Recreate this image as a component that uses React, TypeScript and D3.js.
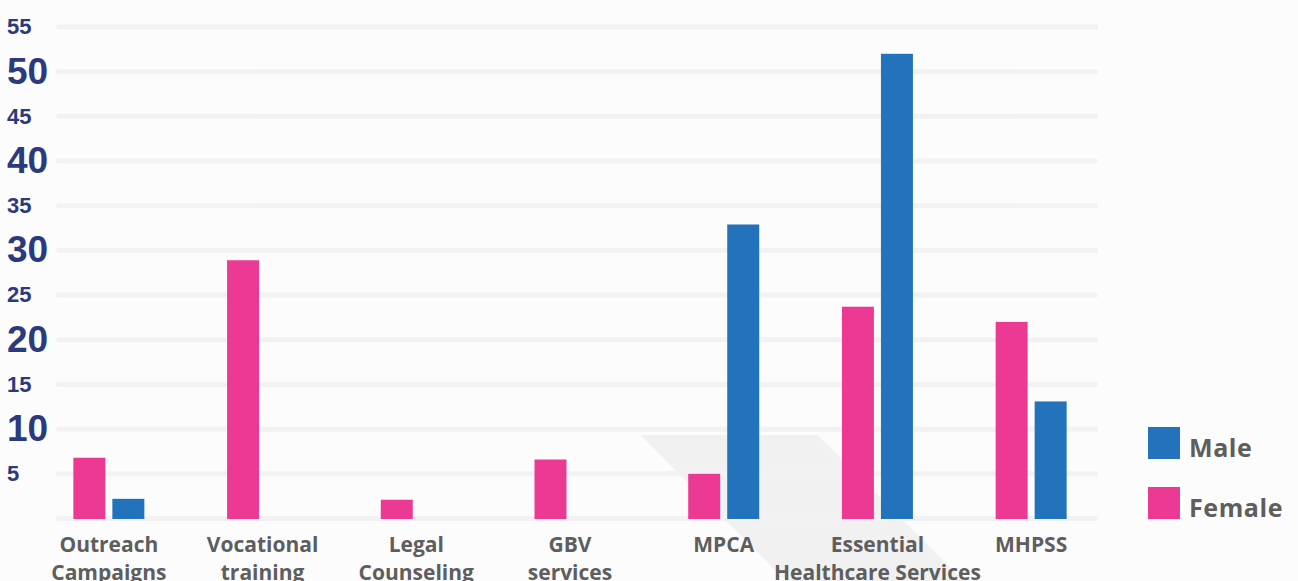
import React, { useRef, useEffect } from 'react';
import { select, scaleLinear, scalePoint, scaleBand, range } from 'd3';

const categories = [
  ['Outreach', 'Campaigns'],
  ['Vocational', 'training'],
  ['Legal', 'Counseling'],
  ['GBV', 'services'],
  ['MPCA'],
  ['Essential', 'Healthcare Services'],
  ['MHPSS'],
];
const female = [6.8, 28.9, 2.1, 6.6, 5, 23.7, 22];
const male = [2.2, 0, 0, 0, 32.9, 52, 13.1];
const series = ['Female', 'Male'];
const yTicks = range(5, 60, 5);

const W = 1298;
const H = 581;
const PINK = '#ec3994';
const BLUE = '#2273bb';
const GREY_TXT = '#5e5e5e';
const NAVY = '#2a3a7d';

/**
 * grouped bar chart
 */
export default function App() {
  const svgRef = useRef(null);

  useEffect(() => {
    const svg = select(svgRef.current);
    svg.selectAll('*').remove();

    const y = scaleLinear().domain([0, 55]).range([518.5, 27]);
    const x = scalePoint()
      .domain(categories.map((c, i) => String(i)))
      .range([32, 1108])
      .padding(0.5);
    const x1 = scaleBand().domain(series).range([-35.5, 35.5]).paddingInner(0.18);

    svg.append('rect').attr('width', W).attr('height', H).attr('fill', '#fcfcfd');

    // decorative shape behind the labels
    svg
      .append('polygon')
      .attr('points', '640,435 818,435 978,595 800,595')
      .attr('fill', '#f1f1f2');

    // grid
    svg
      .append('g')
      .selectAll('line')
      .data([0, ...yTicks])
      .join('line')
      .attr('x1', 58.5)
      .attr('x2', 1095.5)
      .attr('y1', d => y(d))
      .attr('y2', d => y(d))
      .attr('stroke', '#f2f2f3')
      .attr('stroke-width', 5)
      .attr('stroke-linecap', 'round');

    // y labels
    svg
      .append('g')
      .selectAll('text')
      .data(yTicks)
      .join('text')
      .attr('x', 7)
      .attr('y', d => y(d) + (d % 10 === 0 ? 12 : 7.3))
      .attr('font-family', '"Liberation Sans", Arial, sans-serif')
      .attr('font-weight', 'bold')
      .attr('font-size', d => (d % 10 === 0 ? 37 : 22))
      .attr('fill', NAVY)
      .text(d => d);

    // bars
    const rows = categories.map((c, i) => ({ key: String(i), Female: female[i], Male: male[i] }));
    svg
      .append('g')
      .selectAll('g')
      .data(rows)
      .join('g')
      .attr('transform', d => `translate(${x(d.key)},0)`)
      .selectAll('rect')
      .data(d => series.map(s => ({ s, v: d[s] })).filter(e => e.v > 0))
      .join('rect')
      .attr('x', d => x1(d.s))
      .attr('width', x1.bandwidth())
      .attr('y', d => y(d.v))
      .attr('height', d => y(0) + 0.5 - y(d.v))
      .attr('fill', d => (d.s === 'Female' ? PINK : BLUE));

    // x labels
    const lbl = svg
      .append('g')
      .selectAll('text')
      .data(categories)
      .join('text')
      .attr('text-anchor', 'middle')
      .attr('font-family', '"Open Sans", sans-serif')
      .attr('font-weight', 700)
      .attr('font-size', 21)
      .attr('fill', GREY_TXT);
    lbl
      .selectAll('tspan')
      .data((d, i) => d.map(t => ({ t, i })))
      .join('tspan')
      .attr('x', d => x(String(d.i)))
      .attr('y', (d, j) => 552 + j * 28)
      .text(d => d.t);

    // legend
    const legend = [
      { name: 'Male', color: BLUE },
      { name: 'Female', color: PINK },
    ];
    const lg = svg
      .append('g')
      .selectAll('g')
      .data(legend)
      .join('g')
      .attr('transform', (d, i) => `translate(1148,${427 + i * 60})`);
    lg.append('rect').attr('width', 32).attr('height', 32).attr('fill', d => d.color);
    lg.append('text')
      .attr('x', 41)
      .attr('y', 30)
      .attr('font-family', '"Open Sans", sans-serif')
      .attr('font-weight', 700)
      .attr('font-size', 25)
      .attr('letter-spacing', 0.6)
      .attr('fill', GREY_TXT)
      .text(d => d.name);
  }, []);

  return (
    <svg
      ref={svgRef}
      xmlns="http://www.w3.org/2000/svg"
      width={W}
      height={H}
      viewBox={`0 0 ${W} ${H}`}
      style={{ position: 'absolute', left: 0, top: 0, display: 'block' }}
    />
  );
}
